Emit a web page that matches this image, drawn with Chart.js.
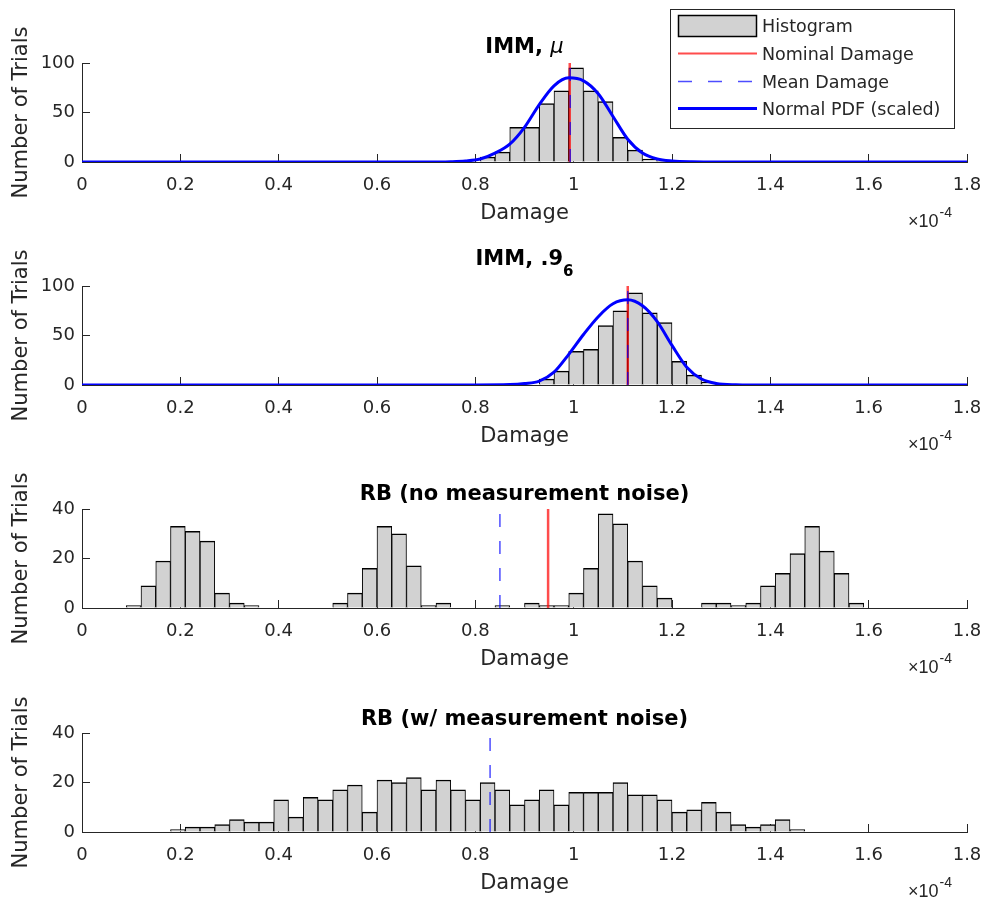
<!DOCTYPE html>
<html>
<head>
<meta charset="utf-8">
<script src="https://cdn.jsdelivr.net/npm/chart.js@4.4.0/dist/chart.umd.min.js"></script>
<style>
  body { margin: 0; background: #fff; }
  #fig { position: relative; width: 987px; height: 900px; }
  #fig canvas { position: absolute; left: 0; }
</style>
</head>
<body>
<div id="fig"></div>
<script>
const binWidth = 0.03;
const xTicks = [0, 0.2, 0.4, 0.6, 0.8, 1, 1.2, 1.4, 1.6, 1.8];
const xTickLabels = ['0', '0.2', '0.4', '0.6', '0.8', '1', '1.2', '1.4', '1.6', '1.8'];
const immTicks = [0, 50, 100];
const rbTicks = [0, 20, 40];

// IMM, mu
const immMuBins = [0.81, 0.84, 0.87, 0.90, 0.93, 0.96, 0.99, 1.02, 1.05, 1.08, 1.11, 1.14, 1.17];
const immMuCounts = [5, 10, 35, 35, 59, 72, 95, 72, 61, 25, 12, 3, 1];
const immMuPdfX = [0, 0.70, 0.75, 0.78, 0.81, 0.84, 0.87, 0.90, 0.93, 0.96, 0.99, 1.02, 1.05, 1.08, 1.11, 1.14, 1.17, 1.20, 1.24, 1.30, 1.8];
const immMuPdfY = [0, 0, 0.3, 1, 3, 9, 18, 35, 58, 77, 85, 82, 69, 46, 23, 9, 3, 1, 0.2, 0, 0];
const immMuNominal = 0.992;
const immMuMean = 0.993;

// IMM, .9_6
const imm96Bins = [0.93, 0.96, 0.99, 1.02, 1.05, 1.08, 1.11, 1.14, 1.17, 1.20, 1.23, 1.26];
const imm96Counts = [6, 14, 34, 36, 60, 75, 93, 73, 63, 24, 10, 3];
const imm96PdfX = [0, 0.80, 0.87, 0.90, 0.93, 0.96, 0.99, 1.02, 1.05, 1.08, 1.11, 1.14, 1.17, 1.20, 1.23, 1.26, 1.29, 1.33, 1.40, 1.8];
const imm96PdfY = [0, 0, 0.4, 1.5, 4, 13, 31, 51, 69, 82, 86, 80, 64, 40, 18, 6, 1.5, 0.3, 0, 0];
const imm96Nominal = 1.11;
const imm96Mean = 1.11;

// RB, no measurement noise
const rbCleanBins = [0.09, 0.12, 0.15, 0.18, 0.21, 0.24, 0.27, 0.30, 0.33, 0.36,
  0.39, 0.42, 0.45, 0.48, 0.51, 0.54, 0.57, 0.60, 0.63, 0.66,
  0.69, 0.72, 0.75, 0.78, 0.81, 0.84, 0.87, 0.90, 0.93, 0.96,
  0.99, 1.02, 1.05, 1.08, 1.11, 1.14, 1.17, 1.20, 1.23, 1.26,
  1.29, 1.32, 1.35, 1.38, 1.41, 1.44, 1.47, 1.50, 1.53, 1.56];
const rbCleanCounts = [1, 9, 19, 33, 31, 27, 6, 2, 1, 0,
  0, 0, 0, 0, 2, 6, 16, 33, 30, 17,
  1, 2, 0, 0, 0, 1, 0, 2, 1, 1,
  6, 16, 38, 34, 19, 9, 4, 0, 0, 2,
  2, 1, 2, 9, 14, 22, 33, 23, 14, 2];
const rbCleanNominal = 0.948;
const rbCleanMean = 0.85;

// RB, with measurement noise
const rbNoisyBins = [0.18, 0.21, 0.24, 0.27, 0.30, 0.33, 0.36, 0.39, 0.42, 0.45,
  0.48, 0.51, 0.54, 0.57, 0.60, 0.63, 0.66, 0.69, 0.72, 0.75,
  0.78, 0.81, 0.84, 0.87, 0.90, 0.93, 0.96, 0.99, 1.02, 1.05,
  1.08, 1.11, 1.14, 1.17, 1.20, 1.23, 1.26, 1.29, 1.32, 1.35,
  1.38, 1.41, 1.44];
const rbNoisyCounts = [1, 2, 2, 3, 5, 4, 4, 13, 6, 14,
  13, 17, 19, 8, 21, 20, 22, 17, 21, 17,
  13, 20, 17, 11, 13, 17, 11, 16, 16, 16,
  20, 15, 15, 13, 8, 9, 12, 8, 3, 2,
  3, 5, 1];
const rbNoisyMean = 0.83;

const ink = '#262626';
const barFill = '#d2d2d2';
const nominalColor = 'rgba(255,0,0,0.7)';
const meanColor = 'rgba(0,0,255,0.7)';
const meanDash = [13, 14];
const font = "'DejaVu Sans', sans-serif";

Chart.defaults.font.family = font;
Chart.defaults.font.size = 18;
Chart.defaults.color = ink;

function vline(label, x, top, color, width, dash, order) {
  return {
    type: 'line', label, data: [{x, y: 0}, {x, y: top}],
    borderColor: color, borderWidth: width, borderDash: dash,
    pointRadius: 0, order
  };
}

function drawLegend(ctx, datasets) {
  const left = 670, top = 9, w = 285, h = 120;
  ctx.fillStyle = '#fff';
  ctx.fillRect(left, top, w, h);
  ctx.strokeStyle = ink;
  ctx.lineWidth = 1;
  ctx.strokeRect(left + 0.5, top + 0.5, w - 1, h - 1);
  const rows = [26, 53.5, 81.5, 108.5];
  datasets.forEach((ds, i) => {
    const y = rows[i];
    if (ds.type === 'bar') {
      ctx.fillStyle = ds.backgroundColor;
      ctx.fillRect(678, y - 11, 79, 22);
      ctx.strokeStyle = '#000';
      ctx.lineWidth = 1.5;
      ctx.strokeRect(678.5, y - 10.5, 78, 21);
    } else {
      ctx.strokeStyle = ds.borderColor;
      ctx.lineWidth = ds.legendWidth || ds.borderWidth;
      ctx.setLineDash(ds.borderDash && ds.borderDash.length ? [14, 16] : []);
      ctx.beginPath();
      ctx.moveTo(678, y);
      ctx.lineTo(757, y);
      ctx.stroke();
      ctx.setLineDash([]);
    }
    ctx.fillStyle = ink;
    ctx.font = '17.5px ' + font;
    ctx.textBaseline = 'middle';
    ctx.textAlign = 'left';
    ctx.fillText(ds.label, 762, y + 1.5);
  });
}

function panel(cfg) {
  const canvas = document.createElement('canvas');
  canvas.width = 987;
  canvas.height = 230;
  canvas.style.top = cfg.top + 'px';
  document.getElementById('fig').appendChild(canvas);

  const yMax = cfg.yTicks[cfg.yTicks.length - 1];
  const datasets = [{
    type: 'bar', label: 'Histogram',
    data: cfg.bins.map((b, i) => ({x: b + binWidth / 2, y: cfg.counts[i]})),
    backgroundColor: barFill, borderColor: '#000',
    borderWidth: {top: 1.5, left: 1, right: 1, bottom: 0},
    barPercentage: 1, categoryPercentage: 1, order: 4
  }];
  if (cfg.nominal != null) {
    const d = vline('Nominal Damage', cfg.nominal, yMax, nominalColor, 2.5, [], 3);
    d.legendWidth = 2;
    datasets.push(d);
  }
  datasets.push(vline('Mean Damage', cfg.mean, yMax, meanColor, 1.5, meanDash, 2));
  if (cfg.pdfX) {
    datasets.push({
      type: 'line', label: 'Normal PDF (scaled)',
      data: cfg.pdfX.map((x, i) => ({x, y: cfg.pdfY[i]})),
      borderColor: '#0000ff', borderWidth: 3, pointRadius: 0,
      cubicInterpolationMode: 'monotone', order: 1
    });
  }

  const decorations = {
    id: 'decorations',
    afterDraw(chart) {
      const {ctx, chartArea: a} = chart;
      ctx.save();
      // panel title, centred over the axes
      ctx.fillStyle = '#000';
      ctx.textBaseline = 'alphabetic';
      ctx.textAlign = 'left';
      let w = 0;
      cfg.title.forEach(p => { ctx.font = p.font; w += ctx.measureText(p.text).width; });
      let x = (a.left + a.right) / 2 - w / 2;
      cfg.title.forEach(p => {
        ctx.font = p.font;
        ctx.fillText(p.text, x, a.top - cfg.titleGap + (p.dy || 0));
        x += ctx.measureText(p.text).width;
      });
      // x-axis exponent
      ctx.fillStyle = ink;
      ctx.font = "18px 'Liberation Sans', sans-serif";
      ctx.fillText('\u00d710', 908, a.bottom + 65);
      const ew = ctx.measureText('\u00d710').width;
      ctx.font = "14px 'Liberation Sans', sans-serif";
      ctx.fillText('-4', 908 + ew + 1, a.bottom + 55);
      if (cfg.legend) drawLegend(ctx, chart.data.datasets);
      ctx.restore();
    }
  };

  new Chart(canvas, {
    type: 'bar',
    data: {datasets},
    options: {
      responsive: false,
      animation: false,
      events: [],
      layout: {padding: {top: 63, left: 0, right: 20, bottom: 0}},
      plugins: {legend: {display: false}, title: {display: false}, tooltip: {enabled: false}},
      scales: {
        x: {
          type: 'linear', min: 0, max: 1.8, offset: false,
          afterBuildTicks: s => { s.ticks = xTicks.map(v => ({value: v})); },
          afterFit: s => { s.height = 68; s.paddingLeft = 0; s.paddingRight = 0; },
          ticks: {padding: 21, autoSkip: false, maxRotation: 0, callback: (v, i) => xTickLabels[i]},
          grid: {drawOnChartArea: false, drawTicks: true, tickLength: -8, color: ink, offset: false},
          border: {display: true, color: ink, width: 1},
          title: {display: true, text: 'Damage', color: ink, font: {size: 21}, padding: {top: 0, bottom: 4}}
        },
        y: {
          min: 0, max: yMax,
          afterBuildTicks: s => { s.ticks = cfg.yTicks.map(v => ({value: v})); },
          afterFit: s => { s.width = 82; },
          ticks: {padding: 15},
          grid: {drawOnChartArea: false, drawTicks: true, tickLength: -8, color: ink},
          border: {display: true, color: ink, width: 1},
          title: {display: true, text: 'Number of Trials', color: ink, font: {size: 21}, padding: {top: 9, bottom: 0}}
        }
      }
    },
    plugins: [decorations]
  });
}

const boldTitle = 'bold 21px ' + font;

panel({
  top: 0, yTicks: immTicks, bins: immMuBins, counts: immMuCounts,
  pdfX: immMuPdfX, pdfY: immMuPdfY, nominal: immMuNominal, mean: immMuMean,
  title: [{text: 'IMM, ', font: boldTitle}, {text: '\u03bc', font: 'italic 21px ' + font}],
  titleGap: 10, legend: true
});
panel({
  top: 223, yTicks: immTicks, bins: imm96Bins, counts: imm96Counts,
  pdfX: imm96PdfX, pdfY: imm96PdfY, nominal: imm96Nominal, mean: imm96Mean,
  title: [{text: 'IMM, .9', font: boldTitle}, {text: '6', font: 'bold 15px ' + font, dy: 11}],
  titleGap: 21
});
panel({
  top: 446, yTicks: rbTicks, bins: rbCleanBins, counts: rbCleanCounts,
  nominal: rbCleanNominal, mean: rbCleanMean,
  title: [{text: 'RB (no measurement noise)', font: boldTitle}],
  titleGap: 9
});
panel({
  top: 670, yTicks: rbTicks, bins: rbNoisyBins, counts: rbNoisyCounts,
  mean: rbNoisyMean,
  title: [{text: 'RB (w/ measurement noise)', font: boldTitle}],
  titleGap: 8
});
</script>
</body>
</html>
